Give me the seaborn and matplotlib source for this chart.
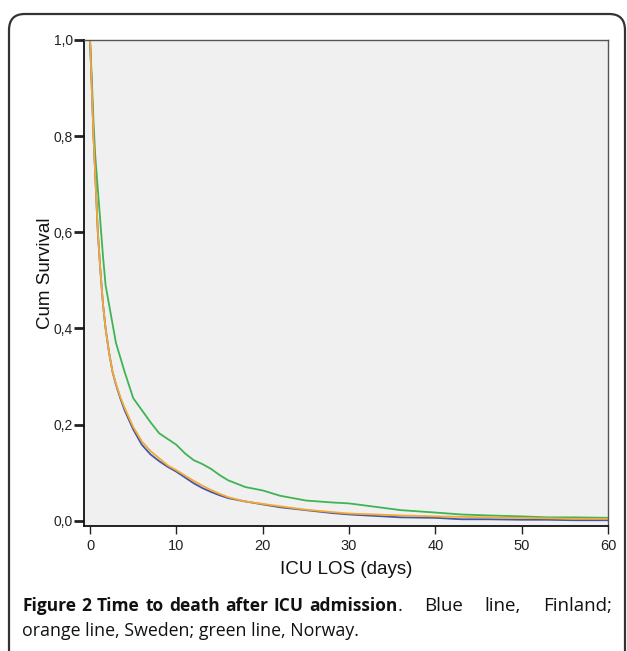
import pandas as pd
import numpy as np
import seaborn as sns
import matplotlib.pyplot as plt
from matplotlib.patches import FancyBboxPatch

# survival (days, cum survival)
days = [0, 0.2, 0.4, 0.6, 0.9, 1.2, 1.5, 1.8, 2.2, 2.6, 3.0, 3.5, 4, 5, 6, 7, 8, 9, 10,
        11, 12, 13, 14, 15, 16, 18, 20, 22, 25, 28, 30, 33, 36, 40, 43, 46, 50, 53, 56, 60]

finland = [1.0, 0.90, 0.80, 0.72, 0.60, 0.52, 0.45, 0.40, 0.35, 0.31, 0.283, 0.255, 0.23,
           0.19, 0.158, 0.138, 0.124, 0.112, 0.102, 0.09, 0.078, 0.068, 0.06, 0.053, 0.047,
           0.04, 0.034, 0.028, 0.022, 0.016, 0.013, 0.01, 0.007, 0.006, 0.003, 0.003, 0.002,
           0.002, 0.001, 0.001]
sweden = [1.0, 0.90, 0.80, 0.72, 0.60, 0.52, 0.45, 0.40, 0.35, 0.31, 0.285, 0.258, 0.235,
          0.195, 0.165, 0.145, 0.13, 0.115, 0.105, 0.094, 0.083, 0.073, 0.064, 0.056, 0.049,
          0.04, 0.035, 0.03, 0.023, 0.018, 0.015, 0.013, 0.011, 0.009, 0.008, 0.007, 0.006,
          0.005, 0.004, 0.004]
norway = [1.0, 0.92, 0.83, 0.76, 0.69, 0.62, 0.55, 0.49, 0.45, 0.41, 0.37, 0.34, 0.31,
          0.255, 0.23, 0.205, 0.182, 0.17, 0.158, 0.14, 0.126, 0.118, 0.108, 0.095, 0.084,
          0.07, 0.063, 0.052, 0.042, 0.038, 0.036, 0.029, 0.022, 0.017, 0.013, 0.011, 0.009,
          0.007, 0.007, 0.006]

x_ticks = [0, 10, 20, 30, 40, 50, 60]
y_ticks = [0.0, 0.2, 0.4, 0.6, 0.8, 1.0]
y_tick_labels = ["0,0", "0,2", "0,4", "0,6", "0,8", "1,0"]

df = pd.DataFrame({
    "days": days * 3,
    "surv": finland + sweden + norway,
    "country": ["Finland"] * len(days) + ["Sweden"] * len(days) + ["Norway"] * len(days),
})

colors = {"Finland": "#4257a8", "Sweden": "#f2aa35", "Norway": "#3db552"}

sns.set_style("white")
plt.rcParams["font.family"] = ["Liberation Sans", "DejaVu Sans"]

fig = plt.figure(figsize=(6.27, 6.51), dpi=100)
W, H = 627, 651

# rounded frame around the figure
box = FancyBboxPatch((9 / W, -0.05), (616 / W), 1.05 - 14 / H,
                     boxstyle="round,pad=0,rounding_size=0.025",
                     transform=fig.transFigure, fill=False, ec="#333333", lw=1.6)
fig.patches.append(box)

ax = fig.add_axes([84 / W, 1 - 526 / H, (608 - 84) / W, (526 - 40) / H])
ax.set_facecolor("#f0f0f0")

sns.lineplot(data=df, x="days", y="surv", hue="country", palette=colors,
             hue_order=["Norway", "Finland", "Sweden"], estimator=None, sort=True,
             linewidth=1.3, legend=False, ax=ax)

ax.set_xlim(-0.7, 60)
ax.set_ylim(-0.011, 1.0)
ax.set_xticks(x_ticks)
ax.set_yticks(y_ticks)
ax.set_yticklabels(y_tick_labels)
ax.tick_params(axis="y", direction="out", length=7, width=2, labelsize=10, pad=1, colors="#222222")
ax.tick_params(axis="x", direction="out", length=6, width=1, labelsize=10.5, pad=3, colors="#222222")
ax.tick_params(left=True, bottom=True)
for lab in ax.get_yticklabels():
    lab.set_family(["Liberation Sans Narrow", "Liberation Sans", "DejaVu Sans"])

for side in ["left", "bottom"]:
    ax.spines[side].set_color("#111111")
    ax.spines[side].set_linewidth(1.3)
for side in ["top", "right"]:
    ax.spines[side].set_color("#555555")
    ax.spines[side].set_linewidth(1.0)

ax.set_xlabel("ICU LOS (days)", fontsize=13.5, labelpad=6, color="#111111")
ax.set_ylabel("Cum Survival", fontsize=13.5, color="#111111")
ax.yaxis.set_label_coords(-0.058, 0.52)

# caption: first line justified to the right margin, bold title words + normal words
cap_font = ["Open Sans", "DejaVu Sans"]
y1 = 1 - 606 / H
renderer = fig.canvas.get_renderer()
pieces = [("Figure", True), ("2", True), ("Time", True), ("to", True), ("death", True),
          ("after", True), ("ICU", True), ("admission", True), (".", False),
          ("Blue", False), ("line,", False), ("Finland;", False)]
texts, widths = [], []
for word, bold in pieces:
    t = fig.text(0, y1, word, fontsize=12.5 if bold else 13.5, family=cap_font,
                 fontweight="bold" if bold else "normal", va="center", color="#111111")
    texts.append(t)
    widths.append(t.get_window_extent(renderer).width)
space_b = 5.5
xpos = 22
for i in range(8):
    texts[i].set_x(xpos / W)
    xpos += widths[i] + (space_b if i < 7 else 0)
texts[8].set_x(xpos / W)
xpos += widths[8]
gap = (612 - xpos - sum(widths[9:])) / 3
for i in range(9, 12):
    xpos += gap
    texts[i].set_x(xpos / W)
    xpos += widths[i]

fig.text(22 / W, 1 - 631 / H, "orange line, Sweden; green line, Norway.",
         fontsize=12.8, family=cap_font, va="center", color="#111111")

fig.savefig("out.png", dpi=100)
